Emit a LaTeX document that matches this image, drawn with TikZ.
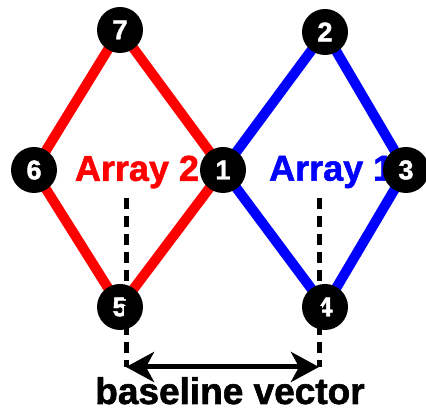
\documentclass[tikz,border=0pt]{standalone}
\usepackage{fontspec}
\setmainfont{Liberation Sans}
\newfontfamily\heavy[BoldFont={Liberation Sans Bold},BoldFeatures={FakeBold=1.6}]{Liberation Sans}
\usetikzlibrary{arrows.meta}
\tikzset{
  vtx/.style={circle,fill=black,minimum size=46pt,inner sep=0pt,text=white,font=\heavy\fontsize{27}{27}\selectfont\bfseries},
  redline/.style={red,line width=10pt},
  blueline/.style={blue,line width=10pt},
  lbl/.style={font=\heavy\fontsize{36}{36}\selectfont\bfseries,inner sep=0pt},
  dashline/.style={black,line width=5pt,dash pattern=on 11pt off 7pt},
}
\begin{document}
\begin{tikzpicture}[x=1pt,y=1pt]
\useasboundingbox (0,0) rectangle (426,414);
% labels first (nodes drawn over them)
\node[lbl,text=red] (a2) at (137,242) {Array 2};
\node[lbl,text=blue,anchor=west] (a1) at (269,242) {Array 1};
% vertex coordinates
\coordinate (p7) at (120,384);
\coordinate (p2) at (325,382);
\coordinate (p6) at (34,244);
\coordinate (p1) at (223,244);
\coordinate (p3) at (406,244);
\coordinate (p5) at (120,107);
\coordinate (p4) at (325,107);
% edges
\draw[redline] (p7) -- (p6) (p7) -- (p1) (p6) -- (p5) (p1) -- (p5);
\draw[blueline] (p2) -- (p1) (p2) -- (p3) (p1) -- (p4) (p3) -- (p4);
% vertices
\node[vtx] (n7) at (p7) {7};
\node[vtx] (n2) at (p2) {2};
\node[vtx] (n6) at (p6) {6};
\node[vtx] (n1) at (p1) {1};
\node[vtx] (n3) at (p3) {3};
\node[vtx] (n5) at (p5) {5};
\node[vtx] (n4) at (p4) {4};
% baseline
\coordinate (d1t) at (126,216);
\coordinate (d1b) at (126,47);
\coordinate (d2t) at (319,216);
\coordinate (d2b) at (319,47);
\draw[dashline] (d1t) -- (d1b);
\draw[dashline] (d2t) -- (d2b);
\draw[line width=5pt,{Stealth[length=28pt,width=30pt,inset=8pt]}-{Stealth[length=28pt,width=30pt,inset=8pt]}] (d1b) -- (d2b);
\node[lbl,anchor=base,font=\heavy\fontsize{37}{37}\selectfont\bfseries] (bv) at (230,10) {baseline vector};
\end{tikzpicture}
\end{document}
